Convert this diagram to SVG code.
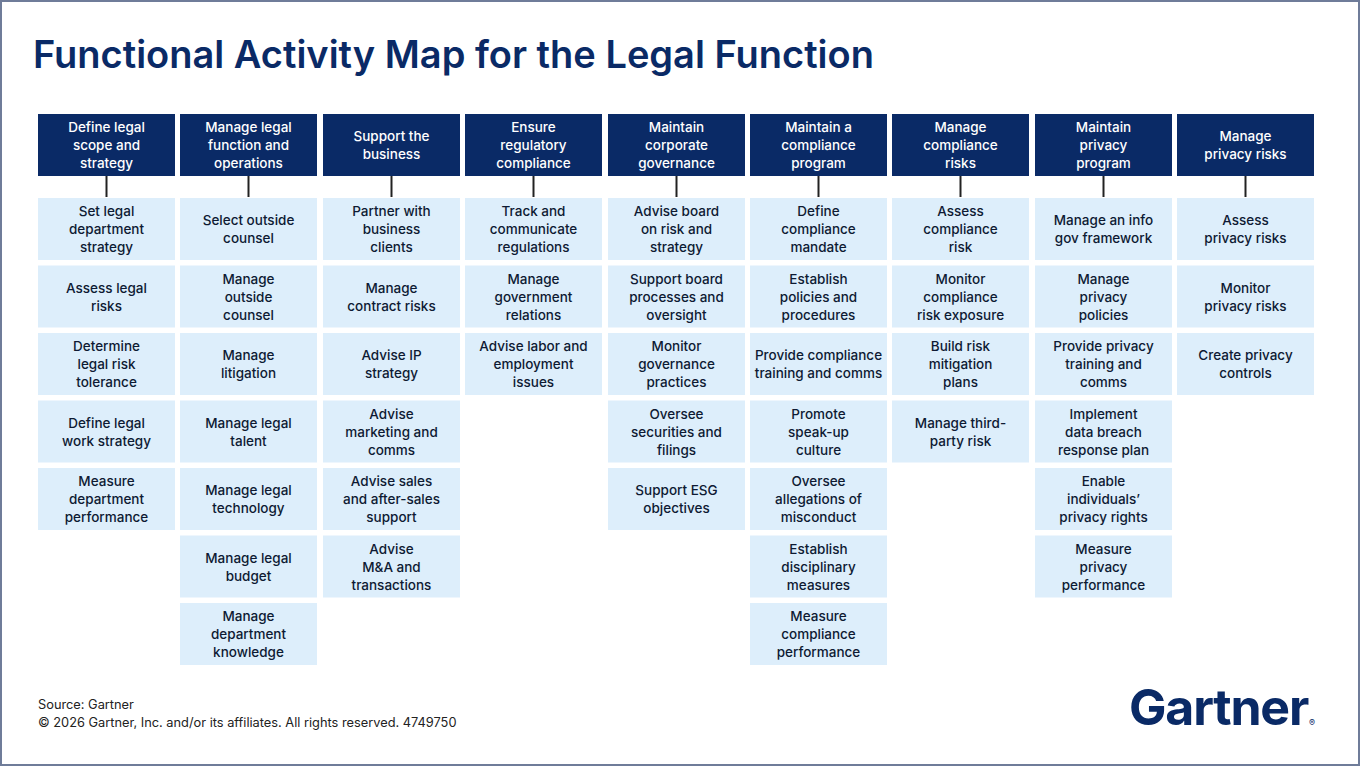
<svg xmlns="http://www.w3.org/2000/svg" width="1360" height="766" viewBox="0 0 1360 766">
<style>
.bg{fill:#ffffff;stroke:#6f7c99;stroke-width:2}
.hd{fill:#0a2a66}
.cl{fill:#ddeefb}
.ht{font-family:Inter,"Noto Sans",sans-serif;font-size:13.5px;font-weight:500;fill:#ffffff;text-anchor:middle}
.ct{font-family:Inter,"Noto Sans",sans-serif;font-size:13.5px;font-weight:500;fill:#0e1a33;text-anchor:middle}
.cn{stroke:#222222;stroke-width:2;fill:none}
.ttl{font-family:Inter,"Noto Sans",sans-serif;font-size:38px;font-weight:600;fill:#0a2a66}
.ft{font-family:Inter,"Noto Sans",sans-serif;font-size:12.8px;fill:#222222}
.logo{font-family:Inter,"Noto Sans",sans-serif;font-size:50px;font-weight:700;fill:#0a2a66;letter-spacing:-1.2px}
</style>
<rect class="bg" x="1" y="1" width="1358" height="764"/>
<text class="ttl" x="33" y="68">Functional Activity Map for the Legal Function</text>

<g id="connectors">
<line class="cn" x1="106.5" y1="176" x2="106.5" y2="197"/>
<line class="cn" x1="248.5" y1="176" x2="248.5" y2="197"/>
<line class="cn" x1="391.5" y1="176" x2="391.5" y2="197"/>
<line class="cn" x1="533.5" y1="176" x2="533.5" y2="197"/>
<line class="cn" x1="676.5" y1="176" x2="676.5" y2="197"/>
<line class="cn" x1="818.5" y1="176" x2="818.5" y2="197"/>
<line class="cn" x1="960.5" y1="176" x2="960.5" y2="197"/>
<line class="cn" x1="1103.5" y1="176" x2="1103.5" y2="197"/>
<line class="cn" x1="1245.5" y1="176" x2="1245.5" y2="197"/>
</g>

<!-- Column 1 -->
<g id="c1-h"><rect class="hd" x="38" y="114" width="137" height="62"/><text class="ht"><tspan x="106.5" y="132">Define legal</tspan><tspan x="106.5" y="150">scope and</tspan><tspan x="106.5" y="168">strategy</tspan></text></g>
<g id="c1-1"><rect class="cl" x="38" y="198" width="137" height="62"/><text class="ct"><tspan x="106.5" y="216">Set legal</tspan><tspan x="106.5" y="234">department</tspan><tspan x="106.5" y="252">strategy</tspan></text></g>
<g id="c1-2"><rect class="cl" x="38" y="265.5" width="137" height="62"/><text class="ct"><tspan x="106.5" y="292.5">Assess legal</tspan><tspan x="106.5" y="310.5">risks</tspan></text></g>
<g id="c1-3"><rect class="cl" x="38" y="333" width="137" height="62"/><text class="ct"><tspan x="106.5" y="351">Determine</tspan><tspan x="106.5" y="369">legal risk</tspan><tspan x="106.5" y="387">tolerance</tspan></text></g>
<g id="c1-4"><rect class="cl" x="38" y="400.5" width="137" height="62"/><text class="ct"><tspan x="106.5" y="427.5">Define legal</tspan><tspan x="106.5" y="445.5">work strategy</tspan></text></g>
<g id="c1-5"><rect class="cl" x="38" y="468" width="137" height="62"/><text class="ct"><tspan x="106.5" y="486">Measure</tspan><tspan x="106.5" y="504">department</tspan><tspan x="106.5" y="522">performance</tspan></text></g>

<!-- Column 2 -->
<g id="c2-h"><rect class="hd" x="180" y="114" width="137" height="62"/><text class="ht"><tspan x="248.5" y="132">Manage legal</tspan><tspan x="248.5" y="150">function and</tspan><tspan x="248.5" y="168">operations</tspan></text></g>
<g id="c2-1"><rect class="cl" x="180" y="198" width="137" height="62"/><text class="ct"><tspan x="248.5" y="225">Select outside</tspan><tspan x="248.5" y="243">counsel</tspan></text></g>
<g id="c2-2"><rect class="cl" x="180" y="265.5" width="137" height="62"/><text class="ct"><tspan x="248.5" y="283.5">Manage</tspan><tspan x="248.5" y="301.5">outside</tspan><tspan x="248.5" y="319.5">counsel</tspan></text></g>
<g id="c2-3"><rect class="cl" x="180" y="333" width="137" height="62"/><text class="ct"><tspan x="248.5" y="360">Manage</tspan><tspan x="248.5" y="378">litigation</tspan></text></g>
<g id="c2-4"><rect class="cl" x="180" y="400.5" width="137" height="62"/><text class="ct"><tspan x="248.5" y="427.5">Manage legal</tspan><tspan x="248.5" y="445.5">talent</tspan></text></g>
<g id="c2-5"><rect class="cl" x="180" y="468" width="137" height="62"/><text class="ct"><tspan x="248.5" y="495">Manage legal</tspan><tspan x="248.5" y="513">technology</tspan></text></g>
<g id="c2-6"><rect class="cl" x="180" y="535.5" width="137" height="62"/><text class="ct"><tspan x="248.5" y="562.5">Manage legal</tspan><tspan x="248.5" y="580.5">budget</tspan></text></g>
<g id="c2-7"><rect class="cl" x="180" y="603" width="137" height="62"/><text class="ct"><tspan x="248.5" y="621">Manage</tspan><tspan x="248.5" y="639">department</tspan><tspan x="248.5" y="657">knowledge</tspan></text></g>

<!-- Column 3 -->
<g id="c3-h"><rect class="hd" x="323" y="114" width="137" height="62"/><text class="ht"><tspan x="391.5" y="141">Support the</tspan><tspan x="391.5" y="159">business</tspan></text></g>
<g id="c3-1"><rect class="cl" x="323" y="198" width="137" height="62"/><text class="ct"><tspan x="391.5" y="216">Partner with</tspan><tspan x="391.5" y="234">business</tspan><tspan x="391.5" y="252">clients</tspan></text></g>
<g id="c3-2"><rect class="cl" x="323" y="265.5" width="137" height="62"/><text class="ct"><tspan x="391.5" y="292.5">Manage</tspan><tspan x="391.5" y="310.5">contract risks</tspan></text></g>
<g id="c3-3"><rect class="cl" x="323" y="333" width="137" height="62"/><text class="ct"><tspan x="391.5" y="360">Advise IP</tspan><tspan x="391.5" y="378">strategy</tspan></text></g>
<g id="c3-4"><rect class="cl" x="323" y="400.5" width="137" height="62"/><text class="ct"><tspan x="391.5" y="418.5">Advise</tspan><tspan x="391.5" y="436.5">marketing and</tspan><tspan x="391.5" y="454.5">comms</tspan></text></g>
<g id="c3-5"><rect class="cl" x="323" y="468" width="137" height="62"/><text class="ct"><tspan x="391.5" y="486">Advise sales</tspan><tspan x="391.5" y="504">and after-sales</tspan><tspan x="391.5" y="522">support</tspan></text></g>
<g id="c3-6"><rect class="cl" x="323" y="535.5" width="137" height="62"/><text class="ct"><tspan x="391.5" y="553.5">Advise</tspan><tspan x="391.5" y="571.5">M&amp;A and</tspan><tspan x="391.5" y="589.5">transactions</tspan></text></g>

<!-- Column 4 -->
<g id="c4-h"><rect class="hd" x="465" y="114" width="137" height="62"/><text class="ht"><tspan x="533.5" y="132">Ensure</tspan><tspan x="533.5" y="150">regulatory</tspan><tspan x="533.5" y="168">compliance</tspan></text></g>
<g id="c4-1"><rect class="cl" x="465" y="198" width="137" height="62"/><text class="ct"><tspan x="533.5" y="216">Track and</tspan><tspan x="533.5" y="234">communicate</tspan><tspan x="533.5" y="252">regulations</tspan></text></g>
<g id="c4-2"><rect class="cl" x="465" y="265.5" width="137" height="62"/><text class="ct"><tspan x="533.5" y="283.5">Manage</tspan><tspan x="533.5" y="301.5">government</tspan><tspan x="533.5" y="319.5">relations</tspan></text></g>
<g id="c4-3"><rect class="cl" x="465" y="333" width="137" height="62"/><text class="ct"><tspan x="533.5" y="351">Advise labor and</tspan><tspan x="533.5" y="369">employment</tspan><tspan x="533.5" y="387">issues</tspan></text></g>

<!-- Column 5 -->
<g id="c5-h"><rect class="hd" x="608" y="114" width="137" height="62"/><text class="ht"><tspan x="676.5" y="132">Maintain</tspan><tspan x="676.5" y="150">corporate</tspan><tspan x="676.5" y="168">governance</tspan></text></g>
<g id="c5-1"><rect class="cl" x="608" y="198" width="137" height="62"/><text class="ct"><tspan x="676.5" y="216">Advise board</tspan><tspan x="676.5" y="234">on risk and</tspan><tspan x="676.5" y="252">strategy</tspan></text></g>
<g id="c5-2"><rect class="cl" x="608" y="265.5" width="137" height="62"/><text class="ct"><tspan x="676.5" y="283.5">Support board</tspan><tspan x="676.5" y="301.5">processes and</tspan><tspan x="676.5" y="319.5">oversight</tspan></text></g>
<g id="c5-3"><rect class="cl" x="608" y="333" width="137" height="62"/><text class="ct"><tspan x="676.5" y="351">Monitor</tspan><tspan x="676.5" y="369">governance</tspan><tspan x="676.5" y="387">practices</tspan></text></g>
<g id="c5-4"><rect class="cl" x="608" y="400.5" width="137" height="62"/><text class="ct"><tspan x="676.5" y="418.5">Oversee</tspan><tspan x="676.5" y="436.5">securities and</tspan><tspan x="676.5" y="454.5">filings</tspan></text></g>
<g id="c5-5"><rect class="cl" x="608" y="468" width="137" height="62"/><text class="ct"><tspan x="676.5" y="495">Support ESG</tspan><tspan x="676.5" y="513">objectives</tspan></text></g>

<!-- Column 6 -->
<g id="c6-h"><rect class="hd" x="750" y="114" width="137" height="62"/><text class="ht"><tspan x="818.5" y="132">Maintain a</tspan><tspan x="818.5" y="150">compliance</tspan><tspan x="818.5" y="168">program</tspan></text></g>
<g id="c6-1"><rect class="cl" x="750" y="198" width="137" height="62"/><text class="ct"><tspan x="818.5" y="216">Define</tspan><tspan x="818.5" y="234">compliance</tspan><tspan x="818.5" y="252">mandate</tspan></text></g>
<g id="c6-2"><rect class="cl" x="750" y="265.5" width="137" height="62"/><text class="ct"><tspan x="818.5" y="283.5">Establish</tspan><tspan x="818.5" y="301.5">policies and</tspan><tspan x="818.5" y="319.5">procedures</tspan></text></g>
<g id="c6-3"><rect class="cl" x="750" y="333" width="137" height="62"/><text class="ct"><tspan x="818.5" y="360">Provide compliance</tspan><tspan x="818.5" y="378">training and comms</tspan></text></g>
<g id="c6-4"><rect class="cl" x="750" y="400.5" width="137" height="62"/><text class="ct"><tspan x="818.5" y="418.5">Promote</tspan><tspan x="818.5" y="436.5">speak-up</tspan><tspan x="818.5" y="454.5">culture</tspan></text></g>
<g id="c6-5"><rect class="cl" x="750" y="468" width="137" height="62"/><text class="ct"><tspan x="818.5" y="486">Oversee</tspan><tspan x="818.5" y="504">allegations of</tspan><tspan x="818.5" y="522">misconduct</tspan></text></g>
<g id="c6-6"><rect class="cl" x="750" y="535.5" width="137" height="62"/><text class="ct"><tspan x="818.5" y="553.5">Establish</tspan><tspan x="818.5" y="571.5">disciplinary</tspan><tspan x="818.5" y="589.5">measures</tspan></text></g>
<g id="c6-7"><rect class="cl" x="750" y="603" width="137" height="62"/><text class="ct"><tspan x="818.5" y="621">Measure</tspan><tspan x="818.5" y="639">compliance</tspan><tspan x="818.5" y="657">performance</tspan></text></g>

<!-- Column 7 -->
<g id="c7-h"><rect class="hd" x="892" y="114" width="137" height="62"/><text class="ht"><tspan x="960.5" y="132">Manage</tspan><tspan x="960.5" y="150">compliance</tspan><tspan x="960.5" y="168">risks</tspan></text></g>
<g id="c7-1"><rect class="cl" x="892" y="198" width="137" height="62"/><text class="ct"><tspan x="960.5" y="216">Assess</tspan><tspan x="960.5" y="234">compliance</tspan><tspan x="960.5" y="252">risk</tspan></text></g>
<g id="c7-2"><rect class="cl" x="892" y="265.5" width="137" height="62"/><text class="ct"><tspan x="960.5" y="283.5">Monitor</tspan><tspan x="960.5" y="301.5">compliance</tspan><tspan x="960.5" y="319.5">risk exposure</tspan></text></g>
<g id="c7-3"><rect class="cl" x="892" y="333" width="137" height="62"/><text class="ct"><tspan x="960.5" y="351">Build risk</tspan><tspan x="960.5" y="369">mitigation</tspan><tspan x="960.5" y="387">plans</tspan></text></g>
<g id="c7-4"><rect class="cl" x="892" y="400.5" width="137" height="62"/><text class="ct"><tspan x="960.5" y="427.5">Manage third-</tspan><tspan x="960.5" y="445.5">party risk</tspan></text></g>

<!-- Column 8 -->
<g id="c8-h"><rect class="hd" x="1035" y="114" width="137" height="62"/><text class="ht"><tspan x="1103.5" y="132">Maintain</tspan><tspan x="1103.5" y="150">privacy</tspan><tspan x="1103.5" y="168">program</tspan></text></g>
<g id="c8-1"><rect class="cl" x="1035" y="198" width="137" height="62"/><text class="ct"><tspan x="1103.5" y="225">Manage an info</tspan><tspan x="1103.5" y="243">gov framework</tspan></text></g>
<g id="c8-2"><rect class="cl" x="1035" y="265.5" width="137" height="62"/><text class="ct"><tspan x="1103.5" y="283.5">Manage</tspan><tspan x="1103.5" y="301.5">privacy</tspan><tspan x="1103.5" y="319.5">policies</tspan></text></g>
<g id="c8-3"><rect class="cl" x="1035" y="333" width="137" height="62"/><text class="ct"><tspan x="1103.5" y="351">Provide privacy</tspan><tspan x="1103.5" y="369">training and</tspan><tspan x="1103.5" y="387">comms</tspan></text></g>
<g id="c8-4"><rect class="cl" x="1035" y="400.5" width="137" height="62"/><text class="ct"><tspan x="1103.5" y="418.5">Implement</tspan><tspan x="1103.5" y="436.5">data breach</tspan><tspan x="1103.5" y="454.5">response plan</tspan></text></g>
<g id="c8-5"><rect class="cl" x="1035" y="468" width="137" height="62"/><text class="ct"><tspan x="1103.5" y="486">Enable</tspan><tspan x="1103.5" y="504">individuals’</tspan><tspan x="1103.5" y="522">privacy rights</tspan></text></g>
<g id="c8-6"><rect class="cl" x="1035" y="535.5" width="137" height="62"/><text class="ct"><tspan x="1103.5" y="553.5">Measure</tspan><tspan x="1103.5" y="571.5">privacy</tspan><tspan x="1103.5" y="589.5">performance</tspan></text></g>

<!-- Column 9 -->
<g id="c9-h"><rect class="hd" x="1177" y="114" width="137" height="62"/><text class="ht"><tspan x="1245.5" y="141">Manage</tspan><tspan x="1245.5" y="159">privacy risks</tspan></text></g>
<g id="c9-1"><rect class="cl" x="1177" y="198" width="137" height="62"/><text class="ct"><tspan x="1245.5" y="225">Assess</tspan><tspan x="1245.5" y="243">privacy risks</tspan></text></g>
<g id="c9-2"><rect class="cl" x="1177" y="265.5" width="137" height="62"/><text class="ct"><tspan x="1245.5" y="292.5">Monitor</tspan><tspan x="1245.5" y="310.5">privacy risks</tspan></text></g>
<g id="c9-3"><rect class="cl" x="1177" y="333" width="137" height="62"/><text class="ct"><tspan x="1245.5" y="360">Create privacy</tspan><tspan x="1245.5" y="378">controls</tspan></text></g>

<text class="ft" x="38" y="709">Source: Gartner</text>
<text class="ft" x="38" y="727">© 2026 Gartner, Inc. and/or its affiliates. All rights reserved. 4749750</text>
<g id="logo"><text class="logo" x="1129" y="725">Gartner</text><text x="1309" y="726" style="font-family:Inter,sans-serif;font-size:9px;fill:#0a2a66">®</text></g>
</svg>
